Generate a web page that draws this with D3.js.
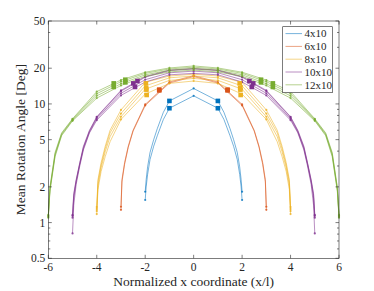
<!DOCTYPE html>
<html>
<head>
<meta charset="utf-8">
<script src="https://cdn.jsdelivr.net/npm/d3@7"></script>
<style>
  body { margin: 0; background: #fff; }
  text { font-family: 'Liberation Serif', serif; fill: #262626; }
</style>
</head>
<body>
<svg id="chart"></svg>
<script>
const w = 374, h = 291;
const margin = { left: 48.3, right: 35, top: 21, bottom: 32.7 };

const seriesNames = ['4x10', '6x10', '8x10', '10x10', '12x10'];
const colors = ['#0072BD', '#D95319', '#EDB120', '#7E2F8E', '#77AC30'];

const xTicks = [-6, -4, -2, 0, 2, 4, 6];
const yTicks = [0.5, 1, 2, 5, 10, 20, 50];
const yTickLabels = ['0.5', '1', '2', '5', '10', '20', '50'];

// x positions of the samples, one list per mesh
const x4 = [-2, -1.96, -1.9, -1.8, -1.65, -1.5, -1.25, -1, 0, 1, 1.25, 1.5, 1.65, 1.8, 1.9, 1.96, 2];
const x6 = [-3, -2.96, -2.85, -2.7, -2.5, -2, -1, 0, 1, 2, 2.5, 2.7, 2.85, 2.96, 3];
const x8 = [-4, -3.95, -3.82, -3.65, -3.45, -3, -2, -1, 0, 1, 2, 3, 3.45, 3.65, 3.82, 3.95, 4];
const x10 = [-5, -4.95, -4.85, -4.7, -4.55, -4.3, -4, -3, -2, -1, 0, 1, 2, 3, 4, 4.3, 4.55, 4.7, 4.85, 4.95, 5];
const x12 = [-6, -5.93, -5.72, -5.45, -5, -4, -3, -2, -1, 0, 1, 2, 3, 4, 5, 5.45, 5.72, 5.93, 6];

// mean rotation angle [deg], several runs per mesh
const y4 = [
  [1.82, 2.3, 2.95, 3.9, 5.0, 6.2, 8.5, 10.6, 13.5, 10.6, 8.5, 6.2, 5.0, 3.9, 2.95, 2.3, 1.82],
  [1.55, 2.0, 2.55, 3.4, 4.4, 5.4, 7.4, 9.2, 11.7, 9.2, 7.4, 5.4, 4.4, 3.4, 2.55, 2.0, 1.55]
];
const y6 = [
  [1.36, 2.3, 3.2, 4.4, 6.0, 9.9, 15.3, 17.3, 15.3, 9.9, 6.0, 4.4, 3.2, 2.3, 1.36],
  [1.28, 2.2, 3.1, 4.3, 5.9, 9.7, 15.0, 17.0, 15.0, 9.7, 5.9, 4.3, 3.1, 2.2, 1.28]
];
const y8 = [
  [1.35, 2.3, 3.2, 4.4, 6.0, 8.9, 15.2, 17.2, 17.8, 17.2, 15.2, 8.9, 6.0, 4.4, 3.2, 2.3, 1.35],
  [1.3, 2.2, 3.05, 4.2, 5.7, 8.3, 14.2, 16.6, 17.2, 16.6, 14.2, 8.3, 5.7, 4.2, 3.05, 2.2, 1.3],
  [1.25, 2.05, 2.9, 3.95, 5.3, 7.8, 13.3, 15.8, 16.4, 15.8, 13.3, 7.8, 5.3, 3.95, 2.9, 2.05, 1.25],
  [1.18, 1.9, 2.7, 3.6, 4.8, 7.4, 12.1, 14.9, 15.6, 14.9, 12.1, 7.4, 4.8, 3.6, 2.7, 1.9, 1.18]
];
const y10 = [
  [1.16, 1.75, 2.3, 3.2, 4.4, 6.0, 7.8, 13.0, 17.0, 19.3, 19.9, 19.3, 17.0, 13.0, 7.8, 6.0, 4.4, 3.2, 2.3, 1.75, 1.16],
  [1.14, 1.7, 2.25, 3.15, 4.3, 5.9, 7.7, 12.8, 16.8, 19.1, 19.7, 19.1, 16.8, 12.8, 7.7, 5.9, 4.3, 3.15, 2.25, 1.7, 1.14],
  [1.1, 1.6, 2.2, 3.1, 4.2, 5.8, 7.5, 12.3, 16.0, 18.3, 18.9, 18.3, 16.0, 12.3, 7.5, 5.8, 4.2, 3.1, 2.2, 1.6, 1.1],
  [0.81, 1.4, 2.1, 3.0, 4.1, 5.7, 7.3, 11.8, 15.3, 17.6, 18.1, 17.6, 15.3, 11.8, 7.3, 5.7, 4.1, 3.0, 2.1, 1.4, 0.81]
];
const y12 = [
  [1.16, 2.0, 3.9, 5.7, 7.5, 12.7, 15.9, 18.5, 20.1, 20.9, 20.1, 18.5, 15.9, 12.7, 7.5, 5.7, 3.9, 2.0, 1.16],
  [1.14, 1.95, 3.8, 5.6, 7.4, 12.2, 15.4, 18.1, 19.7, 20.4, 19.7, 18.1, 15.4, 12.2, 7.4, 5.6, 3.8, 1.95, 1.14],
  [1.12, 1.9, 3.7, 5.5, 7.3, 11.7, 14.8, 17.6, 19.2, 19.9, 19.2, 17.6, 14.8, 11.7, 7.3, 5.5, 3.7, 1.9, 1.12],
  [1.1, 1.85, 3.6, 5.4, 7.2, 11.2, 14.3, 17.1, 18.6, 19.3, 18.6, 17.1, 14.3, 11.2, 7.2, 5.4, 3.6, 1.85, 1.1]
];

// highlighted points (filled squares): [x, angle]
const sq4 = [[-1, 10.6], [-1, 9.2], [1, 10.6], [1, 9.2]];
const sq6 = [[-1.42, 13.2], [-1.42, 13.0], [1.4, 13.2], [1.4, 13.0]];
const sq8 = [[-1.97, 14.9], [-1.96, 13.6], [-1.95, 13.2], [-1.94, 11.9], [1.9, 14.9], [1.92, 13.6], [1.93, 13.2], [1.94, 11.9]];
const sq10 = [[-2.49, 14.9], [-2.32, 15.6], [-2.42, 13.9], [2.3, 15.6], [2.46, 14.9], [2.4, 13.9]];
const sq12 = [[-3.3, 14.9], [-3.3, 13.9], [-2.82, 16.0], [-2.82, 15.2], [2.78, 16.0], [2.78, 15.2], [3.27, 14.9], [3.27, 13.9]];

const xsAll = [x4, x6, x8, x10, x12];
const ysAll = [y4, y6, y8, y10, y12];
const sqAll = [sq4, sq6, sq8, sq10, sq12];

const chart = d3.select('#chart').attr('width', w).attr('height', h);

const xScale = d3.scaleLinear().domain([-6, 6]).range([margin.left, w - margin.right]);
const yScale = d3.scaleLog().domain([0.5, 50]).range([h - margin.bottom, margin.top]);

const x0 = xScale.range()[0], x1 = xScale.range()[1];
const yb = yScale.range()[0], yt = yScale.range()[1];

const line = d3.line()
  .x(d => xScale(d[0]))
  .y(d => yScale(d[1]));

const plot = chart.append('g');

// one path per run, small dots at the integer positions
seriesNames.forEach((name, gi) => {
  const g = plot.append('g');
  ysAll[gi].forEach(ys => {
    const pts = xsAll[gi].map((x, i) => [x, ys[i]]);
    g.append('path')
      .datum(pts)
      .attr('d', line)
      .attr('fill', 'none')
      .attr('stroke', colors[gi])
      .attr('stroke-width', 0.9)
      .attr('stroke-opacity', 0.6);
    g.selectAll(null)
      .data(pts.filter(d => Number.isInteger(d[0])))
      .enter()
      .append('circle')
      .attr('cx', d => xScale(d[0]))
      .attr('cy', d => yScale(d[1]))
      .attr('r', 1.1)
      .attr('fill', colors[gi])
      .attr('fill-opacity', 0.8);
  });
});

seriesNames.forEach((name, gi) => {
  plot.append('g').selectAll('rect')
    .data(sqAll[gi])
    .enter()
    .append('rect')
    .attr('x', d => xScale(d[0]) - 2.3)
    .attr('y', d => yScale(d[1]) - 2.3)
    .attr('width', 4.6)
    .attr('height', 4.6)
    .attr('fill', colors[gi]);
});

// axes box with mirrored ticks
const axisColor = '#262626';
const axes = chart.append('g')
  .attr('stroke', axisColor)
  .attr('stroke-width', 0.6);

axes.append('rect')
  .attr('x', x0).attr('y', yt)
  .attr('width', x1 - x0).attr('height', yb - yt)
  .attr('fill', 'none');

xTicks.forEach(t => {
  const x = xScale(t);
  axes.append('line').attr('x1', x).attr('x2', x).attr('y1', yb).attr('y2', yb - 3.5);
  axes.append('line').attr('x1', x).attr('x2', x).attr('y1', yt).attr('y2', yt + 3.5);
});

const minorTicks = [];
[0.1, 1, 10].forEach(dec => {
  for (let k = 1; k < 10; k++) {
    const v = +(k * dec).toFixed(2);
    if (v >= 0.5 && v <= 50 && !yTicks.includes(v)) minorTicks.push(v);
  }
});

yTicks.forEach(t => {
  const y = yScale(t);
  axes.append('line').attr('x1', x0).attr('x2', x0 + 3.5).attr('y1', y).attr('y2', y);
  axes.append('line').attr('x1', x1).attr('x2', x1 - 3.5).attr('y1', y).attr('y2', y);
});
minorTicks.forEach(t => {
  const y = yScale(t);
  axes.append('line').attr('x1', x0).attr('x2', x0 + 2).attr('y1', y).attr('y2', y);
  axes.append('line').attr('x1', x1).attr('x2', x1 - 2).attr('y1', y).attr('y2', y);
});

chart.append('g').selectAll('text')
  .data(xTicks)
  .enter()
  .append('text')
  .attr('x', d => xScale(d))
  .attr('y', yb + 12.5)
  .attr('text-anchor', 'middle')
  .attr('font-size', '11.5px')
  .text(d => d);

chart.append('g').selectAll('text')
  .data(yTicks)
  .enter()
  .append('text')
  .attr('x', x0 - 3)
  .attr('y', d => yScale(d))
  .attr('dy', '0.35em')
  .attr('text-anchor', 'end')
  .attr('font-size', '11.5px')
  .text((d, i) => yTickLabels[i]);

chart.append('text')
  .attr('x', (x0 + x1) / 2)
  .attr('y', 286)
  .attr('text-anchor', 'middle')
  .attr('font-size', '13.5px')
  .text('Normalized x coordinate (x/l)');

chart.append('text')
  .attr('transform', `translate(25, ${(yb + yt) / 2}) rotate(-90)`)
  .attr('text-anchor', 'middle')
  .attr('font-size', '13.5px')
  .text('Mean Rotation Angle [Deg]');

// legend
const legend = chart.append('g');
legend.append('rect')
  .attr('x', 282.7).attr('y', 26.7)
  .attr('width', 49.6).attr('height', 66)
  .attr('fill', '#fff')
  .attr('stroke', axisColor)
  .attr('stroke-width', 0.6);

seriesNames.forEach((name, i) => {
  const y = 33.6 + i * 12.8;
  legend.append('line')
    .attr('x1', 285.5).attr('x2', 302)
    .attr('y1', y).attr('y2', y)
    .attr('stroke', colors[i])
    .attr('stroke-width', 0.9)
    .attr('stroke-opacity', 0.6);
  legend.append('text')
    .attr('x', 304.5)
    .attr('y', y)
    .attr('dy', '0.35em')
    .attr('font-size', '11px')
    .text(name);
});
</script>
</body>
</html>
